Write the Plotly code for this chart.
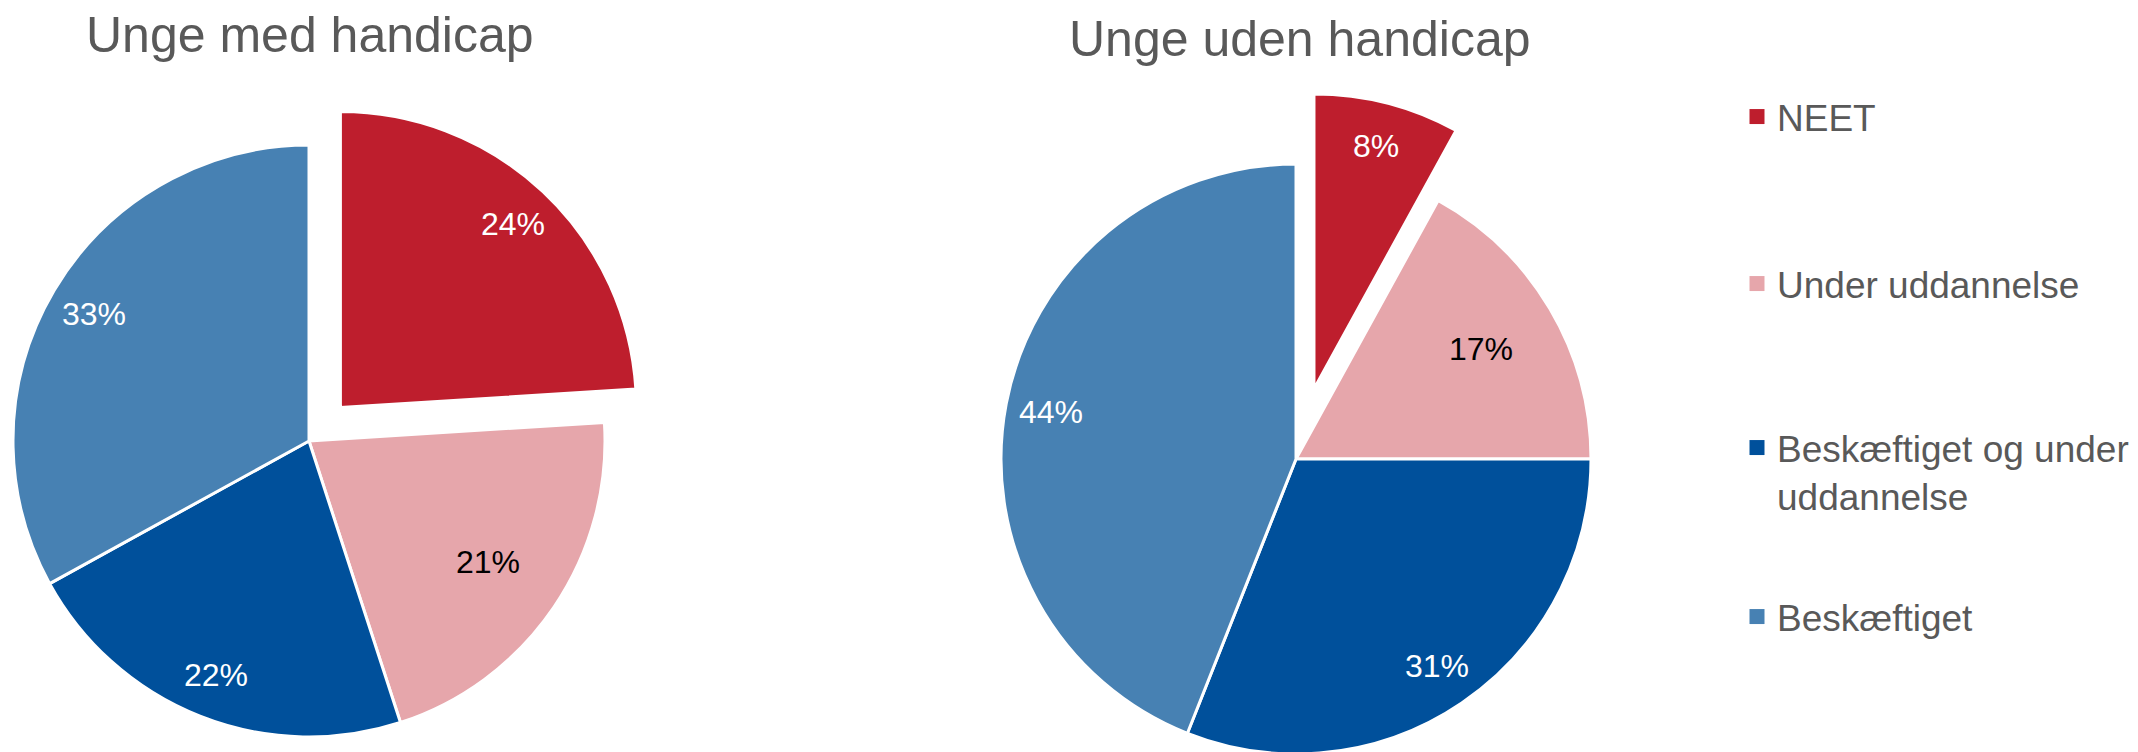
import math
import plotly.graph_objects as go

# data
categories = ["NEET", "Under uddannelse", "Beskæftiget og under uddannelse", "Beskæftiget"]
legend_names = ["NEET", "Under uddannelse", "Beskæftiget og under<br>uddannelse", "Beskæftiget"]
med_handicap = [24, 21, 22, 33]
uden_handicap = [8, 17, 31, 44]
titles = ["Unge med handicap", "Unge uden handicap"]

colors = ["#BE1E2D", "#E6A6AB", "#00509B", "#4781B3"]
text_colors = ["white", "black", "white", "white"]
label_radius = [0.85, 0.73, 0.85, 0.845]   # where the % labels sit, as share of the radius
TRANSPARENT = "rgba(0,0,0,0)"

W, H = 2138, 752
OFF = 8   # the html body margin shifts the figure by 8 px
GREY = "#595959"
FONT = "Liberation Sans, Arial, sans-serif"


def px(x, y):
    # screen pixel -> paper coordinates
    return (x - OFF) / W, 1 - (y - OFF) / H


def domain(cx, cy, r):
    x0, y0 = px(cx - r, cy + r)
    x1, y1 = px(cx + r, cy - r)
    return dict(x=[x0, x1], y=[y0, y1])


def exploded_pie(values, cx, cy, r, pull):
    total = sum(values)
    # first slice is pulled out along its bisector (clockwise from 12 o'clock)
    ang = math.pi * values[0] / total
    ox, oy = pull * r * math.sin(ang), -pull * r * math.cos(ang)
    common = dict(
        labels=categories, values=values, sort=False, direction="clockwise", rotation=0,
        textinfo="none", showlegend=False, hoverinfo="label+value",
    )
    base = go.Pie(
        domain=domain(cx, cy, r),
        marker=dict(colors=[TRANSPARENT] + colors[1:],
                    line=dict(color="white", width=[0, 3, 3, 3])),
        **common,
    )
    pulled = go.Pie(
        domain=domain(cx + ox, cy + oy, r),
        marker=dict(colors=[colors[0]] + [TRANSPARENT] * 3,
                    line=dict(color="white", width=[3, 0, 0, 0])),
        **common,
    )
    # percentage labels along each slice bisector
    labels = []
    cum = 0
    for i, v in enumerate(values):
        mid = 2 * math.pi * (cum + v / 2) / total
        cum += v
        sx, sy = (cx + ox, cy + oy) if i == 0 else (cx, cy)
        lx = sx + label_radius[i] * r * math.sin(mid)
        ly = sy - label_radius[i] * r * math.cos(mid)
        x, y = px(lx, ly)
        labels.append(dict(text=f"{v}%", x=x, y=y, xref="paper", yref="paper",
                           xanchor="center", yanchor="middle", showarrow=False,
                           font=dict(size=32, color=text_colors[i], family=FONT)))
    return [base, pulled], labels


fig = go.Figure()
annotations = []
pies = [(med_handicap, 309, 441, 296, 0.155), (uden_handicap, 1296, 459, 295, 0.245)]
for vals, cx, cy, r, pull in pies:
    traces, labels = exploded_pie(vals, cx, cy, r, pull)
    for t in traces:
        fig.add_trace(t)
    annotations += labels

# legend entries, one legend each so the spacing can follow the reference
legend_ys = [117, 284, 450, 617]
for i, (name, col) in enumerate(zip(legend_names, colors)):
    key = "legend" if i == 0 else f"legend{i + 1}"
    fig.add_trace(go.Scatter(
        x=[None], y=[None], mode="markers", name=name, legend=key,
        marker=dict(symbol="square", size=15, color=col),
    ))
    two_lines = "<br>" in name
    lx, ly = px(1737, legend_ys[i] + (22 if two_lines else 0))
    fig.update_layout({key: dict(
        x=lx, xanchor="left", y=ly, yanchor="middle",
        valign="top", bgcolor="rgba(0,0,0,0)",
        font=dict(size=37, color=GREY, family=FONT),
    )})

for text, (tx, ty) in zip(titles, [(310, 35), (1300, 39)]):
    x, y = px(tx, ty)
    annotations.append(dict(text=text, x=x, y=y, xref="paper", yref="paper",
                            xanchor="center", yanchor="middle", showarrow=False,
                            font=dict(size=50, color=GREY, family=FONT)))

fig.update_layout(
    width=W, height=H,
    margin=dict(l=0, r=0, t=0, b=0),
    paper_bgcolor="white", plot_bgcolor="white",
    xaxis=dict(visible=False), yaxis=dict(visible=False),
    annotations=annotations,
)

fig.write_html("out.html")
